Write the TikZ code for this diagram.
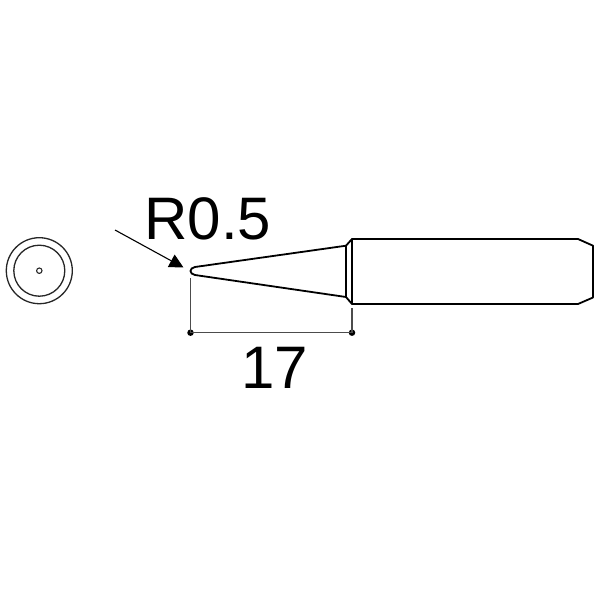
\documentclass[tikz,border=0pt]{standalone}
\usepackage{fontspec}
\setmainfont{Liberation Sans}
\usetikzlibrary{arrows.meta}

\begin{document}
\begin{tikzpicture}[x=1pt, y=-1pt,
    outline/.style={line width=1.8pt, line join=round},
    thinline/.style={line width=1.5pt, black!70},
    dimdot/.style={circle, fill=black, inner sep=0pt, minimum size=6.5pt},
    dimtext/.style={inner sep=0pt, font=\fontsize{60}{62}\selectfont}]
\useasboundingbox (0, 0) rectangle (600, 600);
\draw[line width=1.3pt, black!85] (39.3, 270.7) circle (33) circle (25.5);
\draw[line width=1.1pt, black!85] (39.3, 270.7) circle (2.7);

\draw[outline] (346, 245.7) -- (195, 267) .. controls (189, 268) and (189, 274) .. (195, 275) -- (346, 297);
\draw[outline] (346, 245.7) -- (346, 297) -- (352, 304) -- (578, 304) -- (593, 297.5) -- (593, 245.7) -- (578, 239) -- (352, 239) -- cycle;
\draw[outline] (352, 239) -- (352, 304);

\coordinate (tipend) at (190.5, 278);
\coordinate (shankend) at (352, 308);
\node[dimdot] (dimleft) at (190.5, 332.7) {};
\node[dimdot] (dimright) at (352, 332.7) {};
\draw[thinline] (tipend) -- (dimleft.center) -- (dimright.center) -- (shankend);

\coordinate (leaderstart) at (115, 230);
\coordinate (leaderend) at (183.5, 267.5);
\draw[line width=1.1pt, -{Triangle[length=14pt, width=14pt]}] (leaderstart) -- (leaderend);

\node[dimtext, anchor=base] (radius) at (208, 239) {R0.5};
\node[dimtext, anchor=base] (length) at (275, 388) {17};
\end{tikzpicture}
\end{document}
